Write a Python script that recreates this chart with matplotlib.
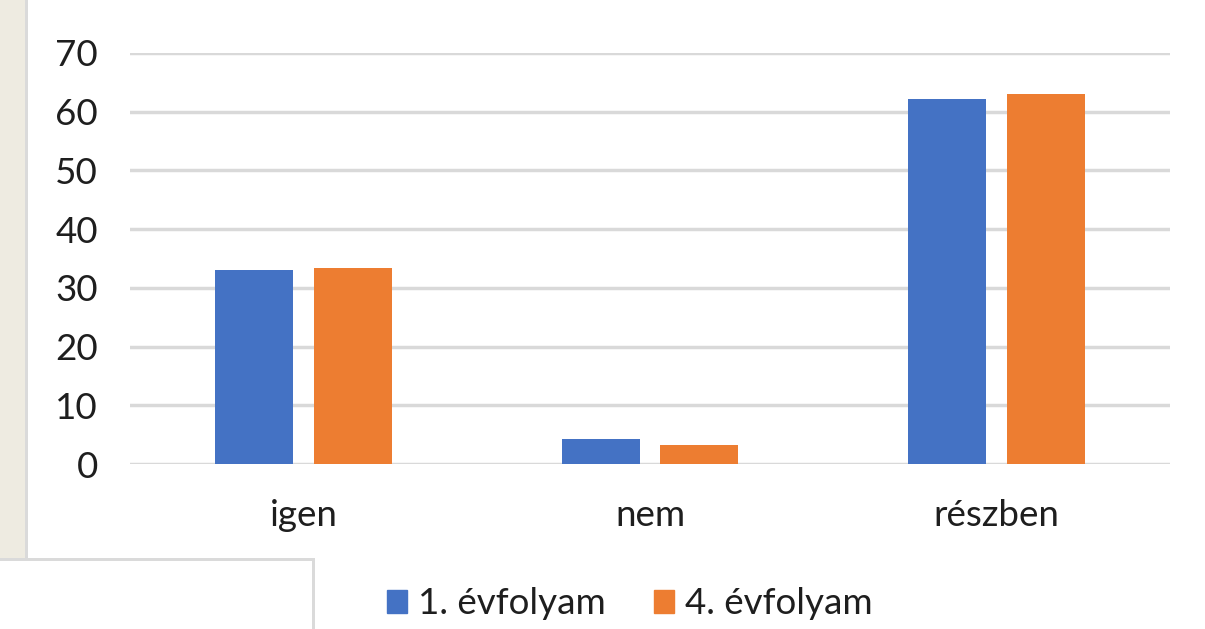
import matplotlib.pyplot as plt
import matplotlib.patches as mpatches
import numpy as np

# data
categories = ['igen', 'nem', 'részben']
grade1 = [33.0, 4.3, 62.2]
grade4 = [33.4, 3.2, 63.0]
series_names = ['1. évfolyam', '4. évfolyam']
yticks = [0, 10, 20, 30, 40, 50, 60, 70]

blue = '#4472C4'
orange = '#ED7D31'
grid_col = '#D9D9D9'
text_col = '#1E1E1E'

plt.rcParams['font.family'] = ['Lato', 'DejaVu Sans']

W, H = 1205, 629
fig = plt.figure(figsize=(W / 100, H / 100), dpi=100)

# page decoration around the chart (beige strip and empty box)
fig.patches.append(mpatches.Rectangle((0, 1 - 558 / H), 25 / W, 558 / H, transform=fig.transFigure,
                                      facecolor='#EEEBE1', edgecolor='none', zorder=0))
fig.patches.append(mpatches.Rectangle((25 / W, 1 - 560 / H), 3 / W, 560 / H, transform=fig.transFigure,
                                      facecolor='#DADADA', edgecolor='none', zorder=0))
fig.patches.append(mpatches.Rectangle((0, 1 - 561 / H), 315 / W, 3 / H, transform=fig.transFigure,
                                      facecolor='#DADADA', edgecolor='none', zorder=0))
fig.patches.append(mpatches.Rectangle((312 / W, 0), 3 / W, 1 - 558 / H, transform=fig.transFigure,
                                      facecolor='#DADADA', edgecolor='none', zorder=0))

ax = fig.add_axes([130 / W, 1 - 464 / H, 1040 / W, 411 / H])
ax.set_facecolor('none')

x = np.arange(len(categories))
w = 0.225
off = 0.142
ax.bar(x - off, grade1, w, color=blue, label=series_names[0], zorder=3)
ax.bar(x + off, grade4, w, color=orange, label=series_names[1], zorder=3)

ax.set_xlim(-0.5, len(categories) - 0.5)
ax.set_ylim(0, 70)
ax.set_yticks(yticks)
ax.set_xticks(x)
ax.set_xticklabels(categories)
for s in ax.spines.values():
    s.set_visible(False)
ax.yaxis.grid(True, color=grid_col, linewidth=2.5, zorder=0)
ax.set_axisbelow(True)
ax.tick_params(axis='y', length=0, pad=23, labelsize=26.5, labelcolor=text_col)
ax.tick_params(axis='x', length=0, pad=25, labelsize=26.5, labelcolor=text_col)

handles = [mpatches.Patch(color=blue), mpatches.Patch(color=orange)]
fig.legend(handles, series_names, loc='center', bbox_to_anchor=(630 / W, 1 - 604 / H),
           ncol=2, frameon=False, fontsize=26.5, handlelength=0.55, handleheight=0.55,
           handletextpad=0.3, columnspacing=1.3, labelcolor=text_col)

fig.savefig('out.png', dpi=100)
